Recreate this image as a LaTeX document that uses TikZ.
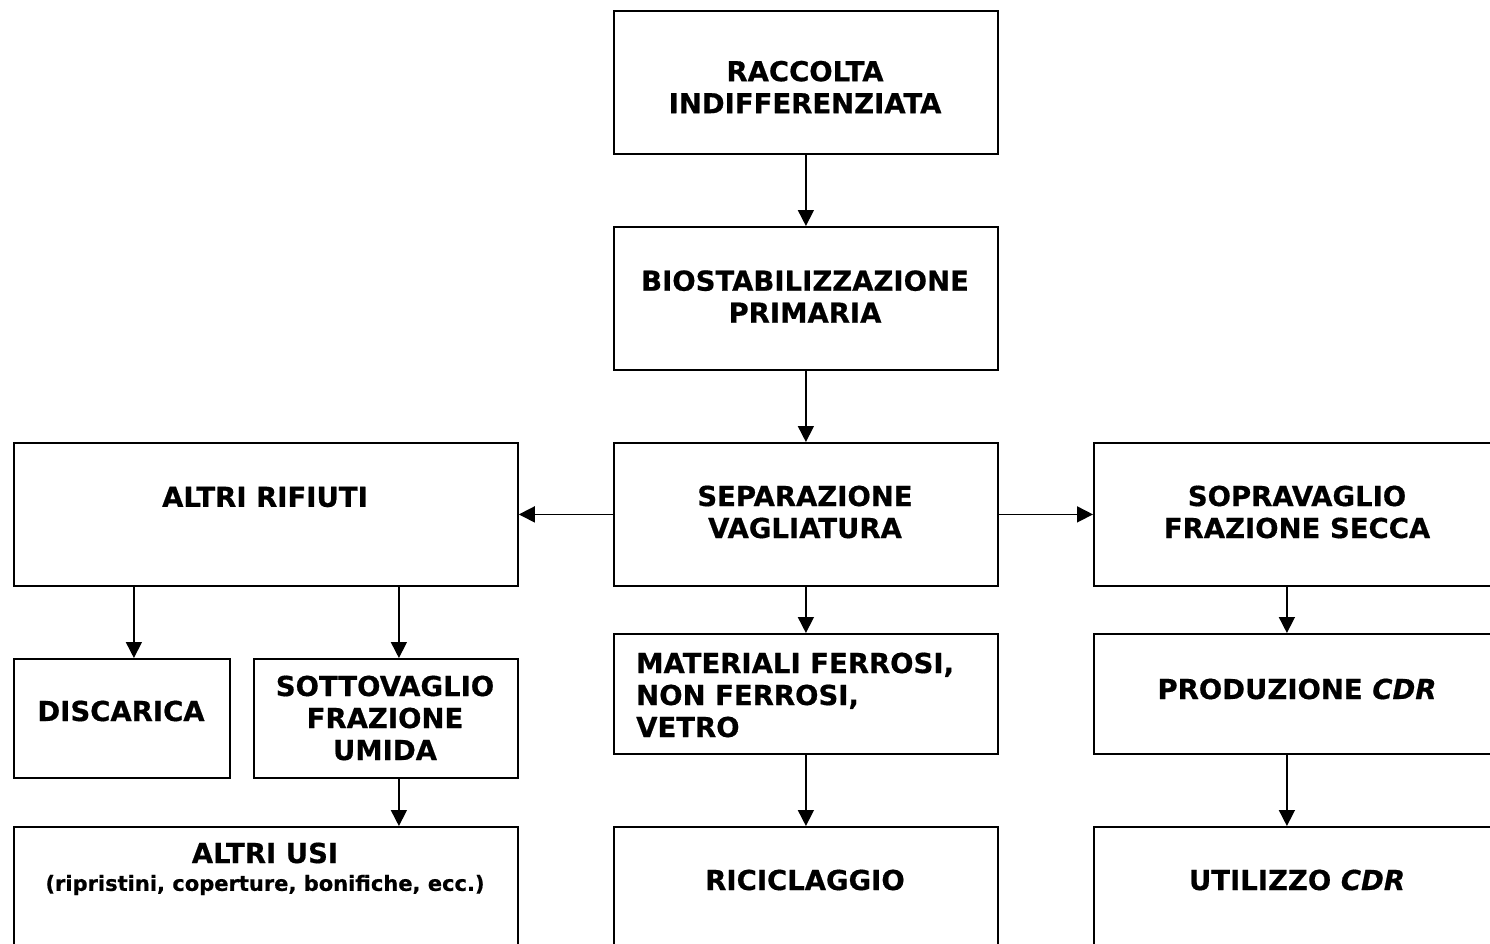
\documentclass[tikz,border=0pt]{standalone}
\usepackage{fontspec}
\setmainfont{DejaVu Sans}[BoldFeatures={FakeBold=0.6},BoldItalicFeatures={FakeBold=0.6}]
\usetikzlibrary{arrows.meta}
\begin{document}
\begin{tikzpicture}[x=1pt,y=-1pt,
  box/.style={draw=black,line width=1.8pt,fill=none,inner sep=0pt,anchor=north west},
  txt/.style={align=center,inner sep=0pt,font=\fontsize{27.5}{32}\selectfont\bfseries},
  ltxt/.style={align=left,inner sep=0pt,font=\fontsize{27.5}{32}\selectfont\bfseries},
  small/.style={inner sep=0pt,font=\fontsize{21}{24}\selectfont\bfseries},
  arr/.style={line width=1.6pt,-{Triangle[width=16pt,length=16pt]}}]
\useasboundingbox (0,0) rectangle (1490,943);
\clip (0,0) rectangle (1490,943);
% boxes
\node[box,minimum width=384pt,minimum height=143pt] (racc) at (613,10) {};
\node[box,minimum width=384pt,minimum height=143pt] (bio) at (613,226) {};
\node[box,minimum width=384pt,minimum height=143pt] (sep) at (613,442) {};
\node[box,minimum width=504pt,minimum height=143pt] (altri) at (13,442) {};
\node[box,minimum width=408pt,minimum height=143pt] (sopra) at (1093,442) {};
\node[box,minimum width=216pt,minimum height=119pt] (disc) at (13,658) {};
\node[box,minimum width=264pt,minimum height=119pt] (sotto) at (253,658) {};
\node[box,minimum width=384pt,minimum height=120pt] (mat) at (613,633) {};
\node[box,minimum width=408pt,minimum height=120pt] (prod) at (1093,633) {};
\node[box,minimum width=504pt,minimum height=143pt] (usi) at (13,826) {};
\node[box,minimum width=384pt,minimum height=143pt] (ric) at (613,826) {};
\node[box,minimum width=408pt,minimum height=143pt] (util) at (1093,826) {};
% texts
\node[txt] (raccT) at (805,87) {RACCOLTA\\INDIFFERENZIATA};
\node[txt] (bioT) at (805,296.5) {BIOSTABILIZZAZIONE\\PRIMARIA};
\node[txt] (sepT) at (805,512) {SEPARAZIONE\\VAGLIATURA};
\node[txt] (altriT) at (265,497) {ALTRI RIFIUTI};
\node[txt] (sopraT) at (1297,512) {SOPRAVAGLIO\\FRAZIONE SECCA};
\node[txt] (discT) at (121,711) {DISCARICA};
\node[txt] (sottoT) at (385,718) {SOTTOVAGLIO\\FRAZIONE\\UMIDA};
\node[ltxt,anchor=west] (matT) at (636,695) {MATERIALI FERROSI,\\NON FERROSI,\\VETRO};
\node[txt] (prodT) at (1297,689) {PRODUZIONE \textit{CDR}};
\node[txt] (usiT) at (265,853) {ALTRI USI};
\node[small] (usiS) at (265,885) {(ripristini, coperture, bonifiche, ecc.)};
\node[txt] (ricT) at (805,880) {RICICLAGGIO};
\node[txt] (utilT) at (1297,880) {UTILIZZO \textit{CDR}};
% arrows
\draw[arr] (racc.south) -- (bio.north);
\draw[arr] (bio.south) -- (sep.north);
\draw[arr] (sep.west) -- (altri.east);
\draw[arr] (sep.east) -- (sopra.west);
\draw[arr] (sep.south) -- (mat.north);
\draw[arr] (mat.south) -- (ric.north);
\draw[arr] ([xshift=-11pt]sopra.south) -- ([xshift=-11pt]prod.north);
\draw[arr] ([xshift=-11pt]prod.south) -- ([xshift=-11pt]util.north);
\draw[arr] (altri.south -| disc.north) ++(12,0) coordinate (a1) -- (a1 |- disc.north);
\draw[arr] (altri.south -| sotto.north) ++(13,0) coordinate (a2) -- (a2 |- sotto.north);
\draw[arr] (sotto.south) ++(13,0) coordinate (a3) -- (a3 |- usi.north);
\end{tikzpicture}
\end{document}
